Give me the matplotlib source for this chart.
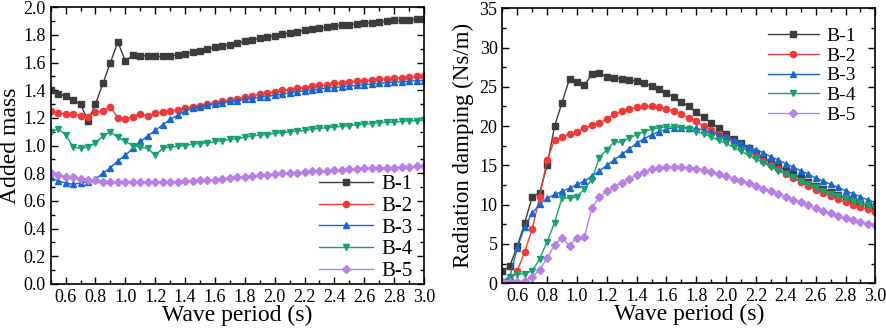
import numpy as np
import matplotlib
matplotlib.use("Agg")
import matplotlib.pyplot as plt
from matplotlib.ticker import MultipleLocator

plt.rcParams['font.family'] = ['Liberation Serif', 'DejaVu Serif']

# Период волны (с), шаг 0.05
period = np.round(np.arange(0.5, 3.0001, 0.05), 2)

labels = ["B-1", "B-2", "B-3", "B-4", "B-5"]
colors = ["#3c3c3c", "#f03a3a", "#1a66cc", "#17a072", "#b681e3"]
markers = ["s", "o", "^", "v", "D"]

# Присоединённая масса
am_b1 = [1.40, 1.37, 1.36, 1.33, 1.30, 1.18, 1.30, 1.45, 1.60, 1.75, 1.61, 1.655, 1.65, 1.65, 1.645, 1.645,
         1.65, 1.655, 1.665, 1.675, 1.685, 1.70, 1.71, 1.72, 1.73, 1.74, 1.755, 1.765, 1.775, 1.785, 1.795,
         1.805, 1.815, 1.825, 1.835, 1.84, 1.85, 1.855, 1.865, 1.87, 1.875, 1.88, 1.885, 1.89, 1.895, 1.90,
         1.905, 1.905, 1.91, 1.915, 1.915]
am_b2 = [1.25, 1.235, 1.23, 1.23, 1.215, 1.21, 1.24, 1.25, 1.28, 1.20, 1.19, 1.21, 1.23, 1.215, 1.235, 1.245,
         1.25, 1.26, 1.27, 1.28, 1.29, 1.30, 1.31, 1.32, 1.33, 1.34, 1.35, 1.36, 1.37, 1.38, 1.39,
         1.40, 1.405, 1.415, 1.42, 1.43, 1.435, 1.44, 1.45, 1.455, 1.46, 1.465, 1.47, 1.475, 1.48, 1.485,
         1.49, 1.49, 1.495, 1.50, 1.50]
am_b3 = [0.77, 0.745, 0.73, 0.72, 0.73, 0.74, 0.76, 0.80, 0.84, 0.89, 0.93, 0.98, 1.03, 1.07, 1.11, 1.15,
         1.19, 1.22, 1.25, 1.27, 1.28, 1.295, 1.30, 1.31, 1.32, 1.325, 1.335, 1.34, 1.35, 1.355, 1.365,
         1.37, 1.38, 1.39, 1.395, 1.40, 1.41, 1.415, 1.42, 1.425, 1.43, 1.435, 1.44, 1.445, 1.45, 1.455,
         1.46, 1.46, 1.465, 1.47, 1.47]
am_b4 = [1.10, 1.12, 1.08, 0.99, 0.98, 0.99, 1.02, 1.07, 1.10, 1.06, 1.03, 1.00, 0.99, 0.98, 0.93, 0.98,
         0.99, 0.995, 1.00, 1.01, 1.015, 1.02, 1.03, 1.035, 1.045, 1.05, 1.06, 1.07, 1.075, 1.08, 1.09,
         1.095, 1.10, 1.105, 1.11, 1.12, 1.125, 1.13, 1.135, 1.14, 1.145, 1.15, 1.155, 1.16, 1.165, 1.17,
         1.17, 1.175, 1.18, 1.18, 1.185]
am_b5 = [0.80, 0.79, 0.775, 0.77, 0.76, 0.755, 0.75, 0.74, 0.735, 0.735, 0.735, 0.735, 0.74, 0.735, 0.735, 0.735,
         0.74, 0.74, 0.745, 0.745, 0.75, 0.75, 0.755, 0.76, 0.765, 0.77, 0.775, 0.78, 0.785, 0.79, 0.795,
         0.80, 0.80, 0.805, 0.81, 0.815, 0.815, 0.82, 0.825, 0.825, 0.83, 0.83, 0.835, 0.835, 0.84, 0.84,
         0.84, 0.845, 0.845, 0.85, 0.85]

# Радиационное демпфирование (Ns/m)
rd_b1 = [1.5, 2.2, 4.7, 7.7, 11.0, 11.5, 15.0, 20.0, 23.0, 26.0, 25.6, 25.2, 26.6, 26.8, 26.2, 26.1,
         26.0, 25.9, 25.7, 25.5, 25.1, 24.7, 24.2, 23.7, 23.1, 22.5, 21.8, 21.1, 20.4, 19.7, 19.0,
         18.4, 17.8, 17.2, 16.6, 16.0, 15.4, 14.9, 14.4, 13.9, 13.4, 12.9, 12.4, 12.0, 11.6, 11.2,
         10.8, 10.5, 10.2, 9.9, 9.6]
rd_b2 = [0.0, 0.3, 1.6, 4.0, 6.9, 11.0, 15.7, 18.2, 18.6, 19.0, 19.3, 19.7, 20.1, 20.4, 20.9, 21.5,
         21.9, 22.2, 22.4, 22.5, 22.5, 22.4, 22.2, 21.9, 21.5, 21.0, 20.6, 20.0, 19.5, 19.0, 18.5,
         18.0, 17.4, 16.8, 16.2, 15.6, 15.0, 14.5, 13.9, 13.4, 12.9, 12.4, 11.9, 11.5, 11.1, 10.7,
         10.3, 10.0, 9.7, 9.4, 9.1]
rd_b3 = [0.3, 0.8, 4.5, 7.2, 8.9, 10.1, 10.8, 11.3, 11.7, 12.1, 12.6, 13.0, 13.6, 14.3, 15.0, 15.7,
         16.4, 17.1, 17.8, 18.4, 18.9, 19.3, 19.6, 19.8, 19.8, 19.8, 19.7, 19.5, 19.2, 18.9, 18.6,
         18.2, 17.8, 17.4, 17.0, 16.6, 16.1, 15.7, 15.2, 14.8, 14.3, 13.9, 13.4, 13.0, 12.6, 12.2,
         11.8, 11.4, 11.0, 10.6, 10.3]
rd_b4 = [0.2, 0.8, 1.2, 1.2, 1.6, 3.1, 5.3, 7.7, 10.9, 10.8, 11.0, 12.0, 13.2, 16.0, 17.0, 18.0,
         18.0, 18.5, 18.9, 19.3, 19.6, 19.8, 19.9, 19.9, 19.8, 19.6, 19.3, 19.0, 18.6, 18.2, 17.8,
         17.3, 16.8, 16.3, 15.8, 15.3, 14.8, 14.3, 13.9, 13.5, 13.0, 12.6, 12.2, 11.8, 11.4, 11.1,
         10.8, 10.5, 10.2, 9.9, 9.6]
rd_b5 = [0.2, 0.1, 0.1, 0.3, 0.8, 1.7, 3.2, 4.9, 5.8, 4.8, 5.8, 5.9, 9.6, 11.0, 11.7, 12.3,
         12.8, 13.3, 13.8, 14.2, 14.5, 14.7, 14.8, 14.8, 14.8, 14.7, 14.6, 14.4, 14.2, 13.9, 13.6,
         13.3, 13.0, 12.7, 12.4, 12.0, 11.7, 11.3, 11.0, 10.6, 10.3, 9.9, 9.6, 9.2, 8.9, 8.6,
         8.3, 8.0, 7.8, 7.6, 7.4]

added_mass = [am_b1, am_b2, am_b3, am_b4, am_b5]
damping = [rd_b1, rd_b2, rd_b3, rd_b4, rd_b5]
xtick_vals = np.round(np.arange(0.6, 3.01, 0.2), 1)


def style_axes(ax):
    ax.tick_params(which='both', direction='in', top=True, right=True, labelsize=13)
    ax.tick_params(which='major', length=5, width=1)
    ax.tick_params(which='minor', length=3, width=1)
    for sp in ax.spines.values():
        sp.set_linewidth(1.2)


def draw(ax, series):
    for vals, lab, c, m in zip(series, labels, colors, markers):
        ms = 4 if m == "D" else 4.5
        ax.plot(period, vals, color=c, marker=m, markersize=ms, lw=1, label=lab)


fig = plt.figure(figsize=(8.86, 3.29), dpi=100)
ax1 = fig.add_axes([0.0572, 0.1368, 0.4214, 0.8410])
ax2 = fig.add_axes([0.567, 0.139, 0.421, 0.836])

draw(ax1, added_mass)
draw(ax2, damping)

# Левый график
ax1.set_xlim(0.5, 3.0)
ax1.set_ylim(0.0, 2.0)
ax1.set_xticks(xtick_vals)
ax1.set_xticklabels([f"{v:.1f}" for v in xtick_vals])
ax1.xaxis.set_minor_locator(MultipleLocator(0.1))
ax1.yaxis.set_major_locator(MultipleLocator(0.2))
ax1.yaxis.set_minor_locator(MultipleLocator(0.1))
ax1.set_yticklabels([f"{v:.1f}" for v in ax1.get_yticks()])
ax1.set_xlabel("Wave period (s)", fontsize=17, labelpad=-1)
ax1.set_ylabel("Added mass", fontsize=17, labelpad=2)
style_axes(ax1)
ax1.legend(loc='lower right', bbox_to_anchor=(1.0, -0.03), frameon=False, fontsize=15,
           handlelength=2.6, labelspacing=0.1, borderaxespad=0.15, handletextpad=0.4)

# Правый график
ax2.set_xlim(0.5, 3.0)
ax2.set_ylim(0, 35)
ax2.set_xticks(xtick_vals)
ax2.set_xticklabels([f"{v:.1f}" for v in xtick_vals])
ax2.xaxis.set_minor_locator(MultipleLocator(0.1))
ax2.yaxis.set_major_locator(MultipleLocator(5))
ax2.yaxis.set_minor_locator(MultipleLocator(2.5))
ax2.set_xlabel("Wave period (s)", fontsize=17, labelpad=-1)
ax2.set_ylabel("Radiation damping (Ns/m)", fontsize=16.5, labelpad=4)
style_axes(ax2)
ax2.legend(loc='upper right', frameon=False, fontsize=14, handlelength=2.6,
           labelspacing=0.1, borderaxespad=0.6, handletextpad=0.4)

fig.savefig("out.png", dpi=100)
